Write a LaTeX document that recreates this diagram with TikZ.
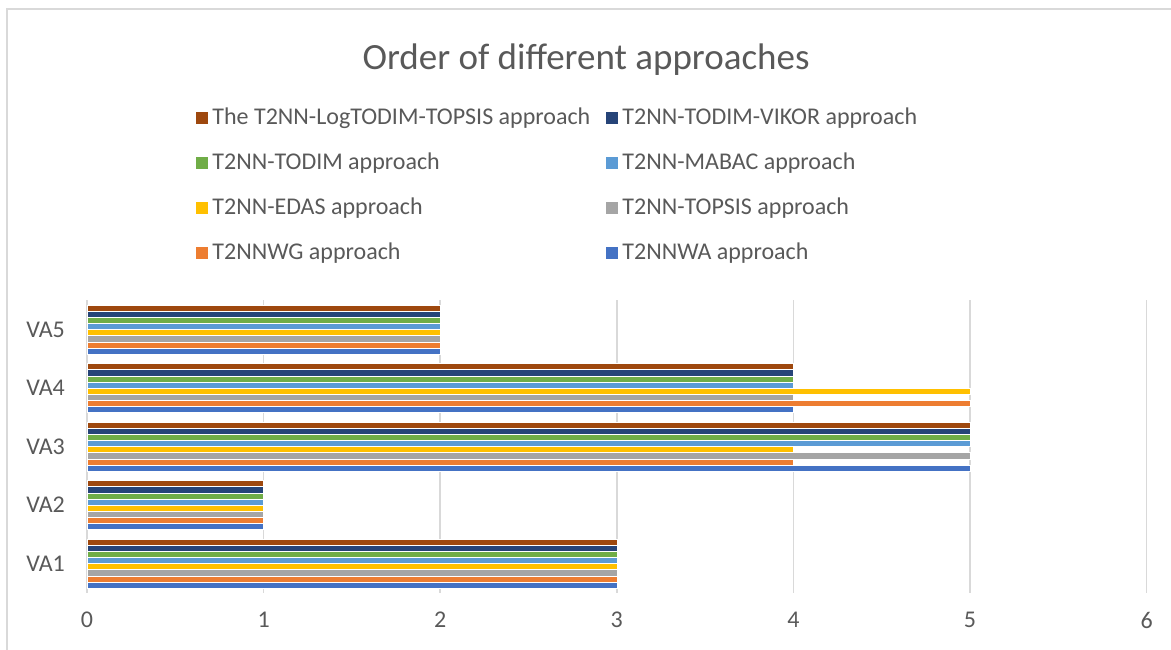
\documentclass[tikz,border=0pt]{standalone}
\usepackage{fontspec}
\setmainfont{Carlito}
\usetikzlibrary{positioning}
\definecolor{ser1}{HTML}{4472C4}
\definecolor{ser2}{HTML}{ED7D31}
\definecolor{ser3}{HTML}{A5A5A5}
\definecolor{ser4}{HTML}{FFC000}
\definecolor{ser5}{HTML}{5B9BD5}
\definecolor{ser6}{HTML}{70AD47}
\definecolor{ser7}{HTML}{264478}
\definecolor{ser8}{HTML}{9E480E}
\definecolor{txtgray}{HTML}{595959}
\definecolor{gridgray}{HTML}{D9D9D9}

\begin{document}
\begin{tikzpicture}[x=1pt,y=-1pt,
  keybox/.style={minimum size=12pt,inner sep=0pt},
  keytext/.style={text=txtgray,font=\fontsize{24}{28}\selectfont,inner sep=0pt,anchor=west},
  ticklab/.style={text=txtgray,font=\fontsize{24}{28}\selectfont,inner sep=0pt},
  bar/.style={draw=white,line width=.3pt}]
  \useasboundingbox (0,0) rectangle (1171,650);
  \clip (0,0) rectangle (1171,650);
  \draw[gridgray,line width=2pt] (6.5,9) rectangle (1190,670);
  \node[text=txtgray,font=\fontsize{37}{44}\selectfont] (title) at (586,60) {Order of different approaches};
  % legend
  \node[keybox,fill=ser8] (k8) at (202,118) {};
  \node[keytext,right=4pt of k8] (t8) {The T2NN-LogTODIM-TOPSIS approach};
  \node[keybox,fill=ser7] (k7) at (612,118) {};
  \node[keytext,right=4pt of k7] (t7) {T2NN-TODIM-VIKOR approach};
  \node[keybox,fill=ser6] (k6) at (202,163) {};
  \node[keytext,right=4pt of k6] (t6) {T2NN-TODIM approach};
  \node[keybox,fill=ser5] (k5) at (612,163) {};
  \node[keytext,right=4pt of k5] (t5) {T2NN-MABAC approach};
  \node[keybox,fill=ser4] (k4) at (202,208) {};
  \node[keytext,right=4pt of k4] (t4) {T2NN-EDAS approach};
  \node[keybox,fill=ser3] (k3) at (612,208) {};
  \node[keytext,right=4pt of k3] (t3) {T2NN-TOPSIS approach};
  \node[keybox,fill=ser2] (k2) at (202,253) {};
  \node[keytext,right=4pt of k2] (t2) {T2NNWG approach};
  \node[keybox,fill=ser1] (k1) at (612,253) {};
  \node[keytext,right=4pt of k1] (t1) {T2NNWA approach};
  % grid and value axis
  \foreach \k in {0,...,6} {
    \draw[gridgray,line width=1.5pt] (87+\k*176.6,300) -- (87+\k*176.6,593);
    \node[ticklab] (x\k) at (87+\k*176.6,620) {\k};
  }
  % bars
  \foreach \c/\vals in {1/{3,3,3,3,3,3,3,3},2/{1,1,1,1,1,1,1,1},3/{5,4,5,4,5,5,5,5},
                        4/{4,5,4,5,4,4,4,4},5/{2,2,2,2,2,2,2,2}} {
    \pgfmathsetmacro\yc{563.5-(\c-1)*58.5}
    \node[ticklab,anchor=east] (va\c) at (65,\yc) {VA\c};
    \foreach \v [count=\j] in \vals {
      \fill[ser\j,bar] (87,\yc+24.5-\j*6.125) rectangle (87+\v*176.6,\yc+24.5-\j*6.125+6.125);
    }
  }
\end{tikzpicture}
\end{document}
